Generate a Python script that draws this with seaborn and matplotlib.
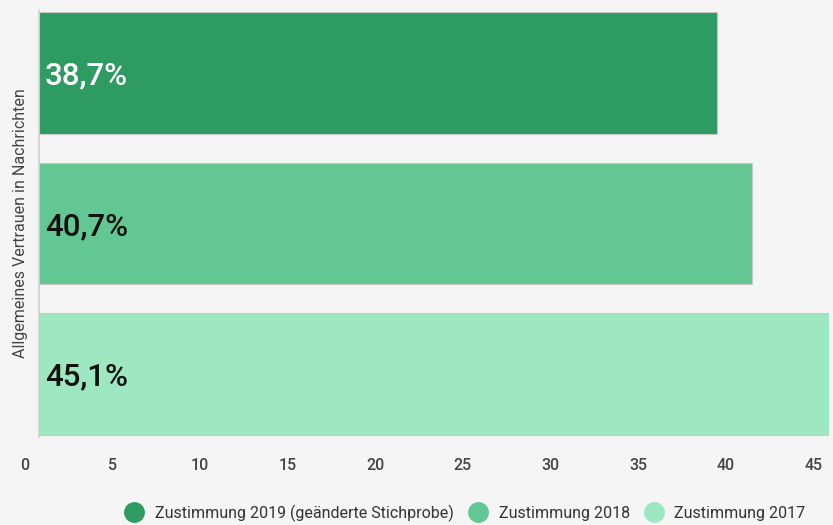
import matplotlib
matplotlib.use("Agg")
import matplotlib.pyplot as plt
import matplotlib.transforms as mtransforms
from matplotlib.lines import Line2D
import seaborn as sns
import pandas as pd

# data
categories = ["Zustimmung 2019 (geänderte Stichprobe)", "Zustimmung 2018", "Zustimmung 2017"]
values = [38.7, 40.7, 45.1]
value_labels = ["38,7%", "40,7%", "45,1%"]
label_colors = ["white", "#111111", "#111111"]
colors = ["#2e9b62", "#62c792", "#9de8c0"]
x_ticks = [0, 5, 10, 15, 20, 25, 30, 35, 40, 45]

df = pd.DataFrame({"Kategorie": categories, "Wert": values})

sns.set_style("white")
plt.rcParams["font.family"] = ["Roboto", "DejaVu Sans"]

fig = plt.figure(figsize=(8.33, 5.25), dpi=100, facecolor="#f5f5f5")
ax = fig.add_axes([39 / 833, 1 - 437 / 525, 790 / 833, 427 / 525])
ax.set_facecolor("#f5f5f5")

sns.barplot(data=df, x="Wert", y="Kategorie", hue="Kategorie", palette=colors,
            saturation=1, legend=False, width=0.81, edgecolor="#c8c8c8",
            linewidth=0.8, ax=ax)

ax.set_xlim(0, 45.1)
ax.set_ylim(2.42, -0.42)

# value labels inside the bars
for i, (lab, c) in enumerate(zip(value_labels, label_colors)):
    ax.text(0.35, i + 0.02, lab, color=c, fontsize=22.5, fontweight="medium",
            va="center", ha="left")

# x tick labels, shifted a little to the left like the original
ax.set_xticks(x_ticks)
ax.set_xticklabels([])
ax.tick_params(axis="x", length=0)
shift = mtransforms.ScaledTranslation(-14 / 100, -28 / 100, fig.dpi_scale_trans)
for t in x_ticks:
    ax.text(t, 0, str(t), transform=ax.get_xaxis_transform() + shift,
            ha="center", va="center", fontsize=11.5, color="#444444", fontweight="medium")

ax.set_yticks([])
ax.set_xlabel("")
ax.set_ylabel("Allgemeines Vertrauen in Nachrichten", fontsize=11.5, color="#444444", labelpad=8)

for s in ["top", "right", "bottom"]:
    ax.spines[s].set_visible(False)
ax.spines["left"].set_color("#d0d0d0")
ax.spines["left"].set_linewidth(1.2)

handles = [Line2D([0], [0], marker="o", linestyle="", markersize=14,
                  markerfacecolor=c, markeredgecolor=c) for c in colors]
fig.legend(handles, categories, loc="center", bbox_to_anchor=(462 / 833, 1 - 513 / 525),
           ncol=3, frameon=False, fontsize=11.5, handletextpad=0.3, columnspacing=0.5,
           labelcolor="#333333")

fig.savefig("out.png", dpi=100, facecolor=fig.get_facecolor())
